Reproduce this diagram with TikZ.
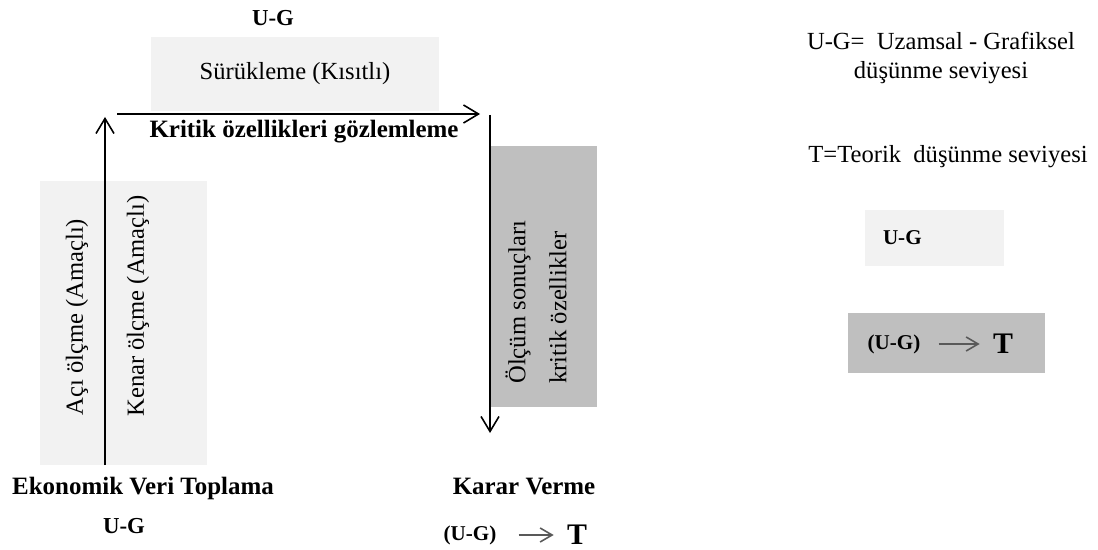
\documentclass[tikz,border=0pt]{standalone}
\usepackage{fontspec}
\setmainfont{Liberation Serif}
\usepackage{tikz}
\usetikzlibrary{
    arrows.meta,
    positioning
}
\definecolor{lgGray}{HTML}{F2F2F2}
\definecolor{dkGray}{HTML}{BFBFBF}
\tikzset{
  lbox/.style   = {fill=lgGray, inner sep=0pt},
  dbox/.style   = {fill=dkGray, inner sep=0pt},
  txt/.style    = {font=\fontsize{14}{17}\selectfont, inner sep=0pt},
  btxt/.style   = {font=\fontsize{14.2}{17}\selectfont\bfseries, inner sep=0pt},
  ugtxt/.style  = {font=\fontsize{13}{17}\selectfont\bfseries, inner sep=0pt},
  sugtxt/.style = {font=\fontsize{12}{14}\selectfont\bfseries, inner sep=0pt},
  bigT/.style   = {font=\fontsize{17}{20}\selectfont\bfseries, inner sep=0pt},
  vtxt/.style   = {txt, rotate=90, anchor=west},
  arr/.style    = {-{Straight Barb[length=0.3cm, width=0.36cm]}, line width=0.9pt},
  arrs/.style   = {-{Straight Barb[length=0.24cm, width=0.28cm]}, line width=0.9pt, black!65}
}

\begin{document}
\begin{tikzpicture}[x=0.02cm, y=-0.02cm]
    \useasboundingbox (0,0) rectangle (1098,550);
    \node[lbox, txt, minimum width=5.76cm, minimum height=1.48cm] (drag) at (295,74) {Sürükleme (Kısıtlı)};
    \node[ugtxt] (topug) at (273,18) {U-G};
    \node[btxt] (crit) at (304,132) {Kritik özellikleri gözlemleme};
    \node[lbox, minimum width=3.34cm, minimum height=5.68cm] (meas) at (123.5,323) {};
    \node[vtxt] (angle) at (77,416) {Açı ölçme (Amaçlı)};
    \node[vtxt] (edge) at (138,417) {Kenar ölçme (Amaçlı)};
    \node[dbox, minimum width=2.12cm, minimum height=5.22cm] (res) at (544,276.5) {};
    \node[vtxt] (res1) at (518,384) {Ölçüm sonuçları};
    \node[vtxt] (res2) at (558,384) {kritik özellikler};
    \node[btxt] (collect) at (143,488) {Ekonomik Veri Toplama};
    \node[ugtxt] (collectug) at (124,526) {U-G};
    \node[btxt] (decide) at (524,487) {Karar Verme};
    \node[sugtxt] (decug) at (470,535) {(U-G)};
    \node[bigT] (decT) at (577,535) {T};

    \coordinate (up0) at (105,465);
    \coordinate (up1) at (105,117);
    \coordinate (rt0) at (117,114);
    \coordinate (rt1) at (480,114);
    \coordinate (dn0) at (490,115);
    \coordinate (dn1) at (490,433);
    \draw[arr] (up0) -- (up1);
    \draw[arr] (rt0) -- (rt1);
    \draw[arr] (dn0) -- (dn1);
    \draw[arrs, shorten <=0.44cm, shorten >=0.26cm] (decug) -- (decT);

    \node[txt, align=center] (legug) at (941,58) {U-G=\ \ Uzamsal - Grafiksel\\düşünme seviyesi};
    \node[txt] (legT) at (948,157) {T=Teorik\ \ düşünme seviyesi};
    \node[lbox, sugtxt, minimum height=1.12cm, text width=2.06cm, inner xsep=0.36cm, align=left] (legbox1) at (934.5,238) {U-G};
    \node[dbox, minimum width=3.94cm, minimum height=1.22cm] (legbox2) at (946.5,343) {};
    \node[sugtxt] (legug2) at (894,344) {(U-G)};
    \node[bigT] (legT2) at (1003,344) {T};
    \draw[arrs, shorten <=0.36cm, shorten >=0.26cm] (legug2) -- (legT2);
\end{tikzpicture}
\end{document}
